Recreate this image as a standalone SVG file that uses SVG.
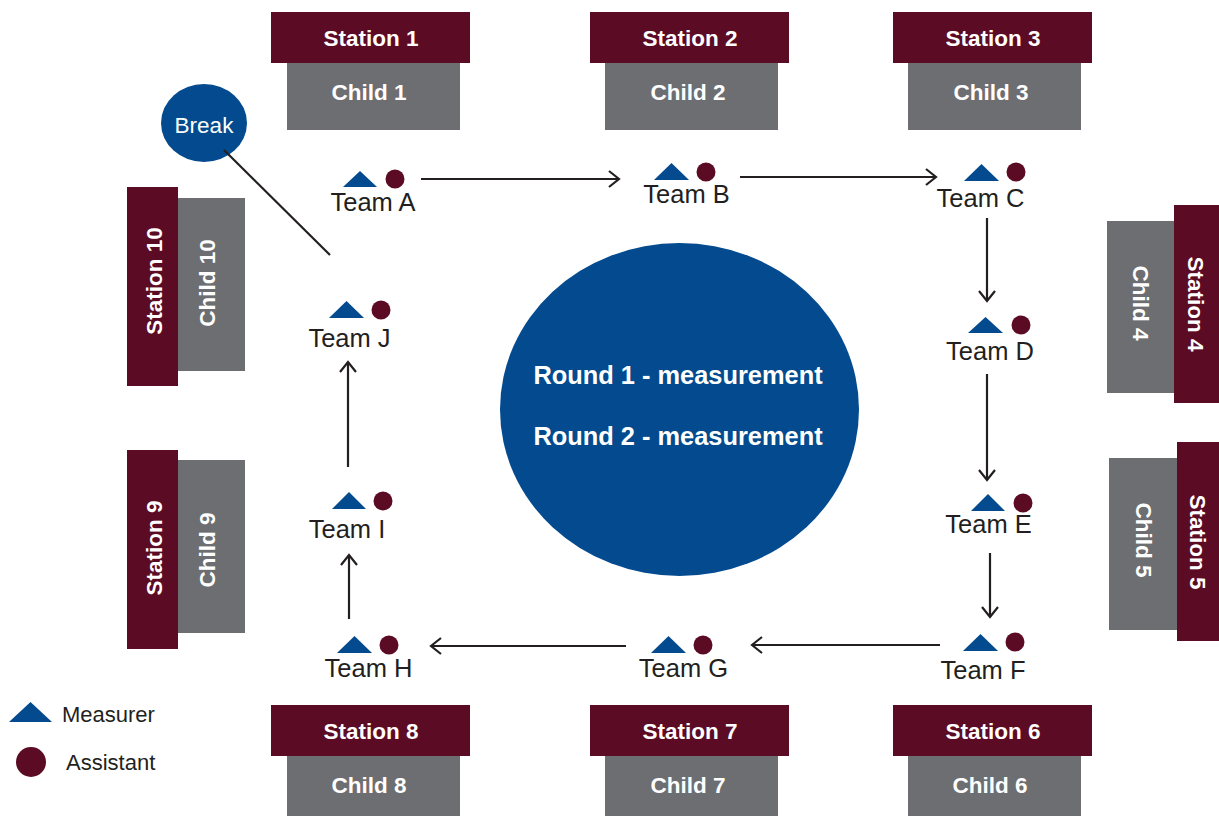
<svg xmlns="http://www.w3.org/2000/svg" width="1219" height="816" viewBox="0 0 1219 816">
<style>
.st{fill:#5c0b24}
.ch{fill:#6d6e71}
.lb{font-family:"Liberation Sans",Arial,sans-serif;font-weight:bold;font-size:22.5px;fill:#ffffff;text-anchor:middle}
.tm{font-family:"Liberation Sans",Arial,sans-serif;font-size:25.5px;fill:#231f20;text-anchor:middle}
.lg{font-family:"Liberation Sans",Arial,sans-serif;font-size:22px;fill:#231f20}
.tri{fill:#034b8e}
.dot{fill:#5c0b24}
.cn{stroke:#231f20;stroke-width:2.2;fill:none}
</style>
<defs>
<marker id="ah" markerUnits="userSpaceOnUse" markerWidth="14" markerHeight="20" refX="11" refY="9" orient="auto" viewBox="0 0 14 20">
<path d="M1,1 L11,9 L1,17" fill="none" stroke="#231f20" stroke-width="2.2"/>
</marker>
</defs>
<rect width="1219" height="816" fill="#ffffff"/>

<g id="station1"><rect class="st" x="271" y="12" width="199" height="51"/><rect class="ch" x="287" y="63" width="173" height="67"/><text class="lb" x="371" y="46">Station 1</text><text class="lb" x="369" y="100">Child 1</text></g>
<g id="station2"><rect class="st" x="590" y="12" width="199" height="51"/><rect class="ch" x="605" y="63" width="173" height="67"/><text class="lb" x="690" y="46">Station 2</text><text class="lb" x="688" y="100">Child 2</text></g>
<g id="station3"><rect class="st" x="893" y="12" width="199" height="51"/><rect class="ch" x="908" y="63" width="173" height="67"/><text class="lb" x="993" y="46">Station 3</text><text class="lb" x="991" y="100">Child 3</text></g>

<g id="station4"><rect class="st" x="1174" y="205" width="45" height="198"/><rect class="ch" x="1107" y="221" width="67" height="172"/><text class="lb" transform="translate(1188,304) rotate(90)">Station 4</text><text class="lb" transform="translate(1133,303) rotate(90)">Child 4</text></g>
<g id="station5"><rect class="st" x="1177" y="442" width="42" height="199"/><rect class="ch" x="1109" y="458" width="68" height="172"/><text class="lb" transform="translate(1190,542) rotate(90)">Station 5</text><text class="lb" transform="translate(1136,540) rotate(90)">Child 5</text></g>

<g id="station6"><rect class="st" x="893" y="705" width="199" height="51"/><rect class="ch" x="908" y="756" width="173" height="60"/><text class="lb" x="993" y="739">Station 6</text><text class="lb" x="990" y="793">Child 6</text></g>
<g id="station7"><rect class="st" x="590" y="705" width="199" height="51"/><rect class="ch" x="605" y="756" width="173" height="60"/><text class="lb" x="690" y="739">Station 7</text><text class="lb" x="688" y="793">Child 7</text></g>
<g id="station8"><rect class="st" x="271" y="705" width="199" height="51"/><rect class="ch" x="287" y="756" width="173" height="60"/><text class="lb" x="371" y="739">Station 8</text><text class="lb" x="369" y="793">Child 8</text></g>

<g id="station9"><rect class="st" x="127" y="450" width="51" height="199"/><rect class="ch" x="178" y="460" width="67" height="173"/><text class="lb" transform="translate(162,548) rotate(-90)">Station 9</text><text class="lb" transform="translate(215,550) rotate(-90)">Child 9</text></g>
<g id="station10"><rect class="st" x="127" y="187" width="51" height="199"/><rect class="ch" x="178" y="198" width="67" height="173"/><text class="lb" transform="translate(162,281) rotate(-90)">Station 10</text><text class="lb" transform="translate(215,283) rotate(-90)">Child 10</text></g>

<g id="center"><ellipse cx="679.5" cy="409.5" rx="179.5" ry="166.5" fill="#034b8e"/><text class="lb" style="font-size:25.4px" x="678" y="384">Round 1 - measurement</text><text class="lb" style="font-size:25.4px" x="678" y="445">Round 2 - measurement</text></g>

<g id="break"><ellipse cx="204" cy="123" rx="43" ry="39" fill="#034b8e"/><text x="204" y="133" style="font-family:'Liberation Sans',Arial,sans-serif;font-size:22.5px;fill:#ffffff;text-anchor:middle">Break</text></g>

<g id="teamA"><polygon class="tri" points="343,187 360,171 377,187"/><circle class="dot" cx="395" cy="179" r="9.5"/><text class="tm" x="373" y="211">Team A</text></g>
<g id="teamB"><polygon class="tri" points="654,180 671.5,163 689,180"/><circle class="dot" cx="706" cy="172" r="9.5"/><text class="tm" x="686.5" y="203">Team B</text></g>
<g id="teamC"><polygon class="tri" points="964,181 981.5,164 999,181"/><circle class="dot" cx="1016" cy="172" r="9.5"/><text class="tm" x="980.5" y="207">Team C</text></g>
<g id="teamD"><polygon class="tri" points="968,333 985.5,317 1003,333"/><circle class="dot" cx="1021" cy="325" r="9.5"/><text class="tm" x="990" y="360">Team D</text></g>
<g id="teamE"><polygon class="tri" points="971,511 988,494 1005,511"/><circle class="dot" cx="1023" cy="503" r="9.5"/><text class="tm" x="988.5" y="533">Team E</text></g>
<g id="teamF"><polygon class="tri" points="963,651 980.5,634 998,651"/><circle class="dot" cx="1015" cy="642" r="9.5"/><text class="tm" x="983" y="679">Team F</text></g>
<g id="teamG"><polygon class="tri" points="651,653 668.5,636 686,653"/><circle class="dot" cx="703" cy="645" r="9.5"/><text class="tm" x="683.5" y="677">Team G</text></g>
<g id="teamH"><polygon class="tri" points="337,653 354.5,636 372,653"/><circle class="dot" cx="389" cy="645" r="9.5"/><text class="tm" x="368.5" y="677">Team H</text></g>
<g id="teamI"><polygon class="tri" points="332,509 349,492 366,509"/><circle class="dot" cx="383" cy="501" r="9.5"/><text class="tm" x="347" y="538">Team I</text></g>
<g id="teamJ"><polygon class="tri" points="329,318 346.5,301 364,318"/><circle class="dot" cx="381" cy="310" r="9.5"/><text class="tm" x="349.5" y="347">Team J</text></g>

<g id="connectors">
<line class="cn" x1="421" y1="179" x2="619" y2="179" marker-end="url(#ah)"/>
<line class="cn" x1="740" y1="177" x2="936" y2="177" marker-end="url(#ah)"/>
<line class="cn" x1="987" y1="218" x2="987" y2="301" marker-end="url(#ah)"/>
<line class="cn" x1="987" y1="374" x2="987" y2="480" marker-end="url(#ah)"/>
<line class="cn" x1="990" y1="553" x2="990" y2="617" marker-end="url(#ah)"/>
<line class="cn" x1="940" y1="645" x2="752" y2="645" marker-end="url(#ah)"/>
<line class="cn" x1="626" y1="646" x2="431" y2="646" marker-end="url(#ah)"/>
<line class="cn" x1="349" y1="619" x2="349" y2="555" marker-end="url(#ah)"/>
<line class="cn" x1="348" y1="467" x2="348" y2="362" marker-end="url(#ah)"/>
<line class="cn" x1="224" y1="150" x2="330" y2="255"/>
</g>

<g id="legend">
<polygon class="tri" points="9,722 30.5,702 52,722"/><text class="lg" x="62" y="722">Measurer</text>
<circle class="dot" cx="31" cy="762" r="15"/><text class="lg" x="66" y="770">Assistant</text>
</g>
</svg>
